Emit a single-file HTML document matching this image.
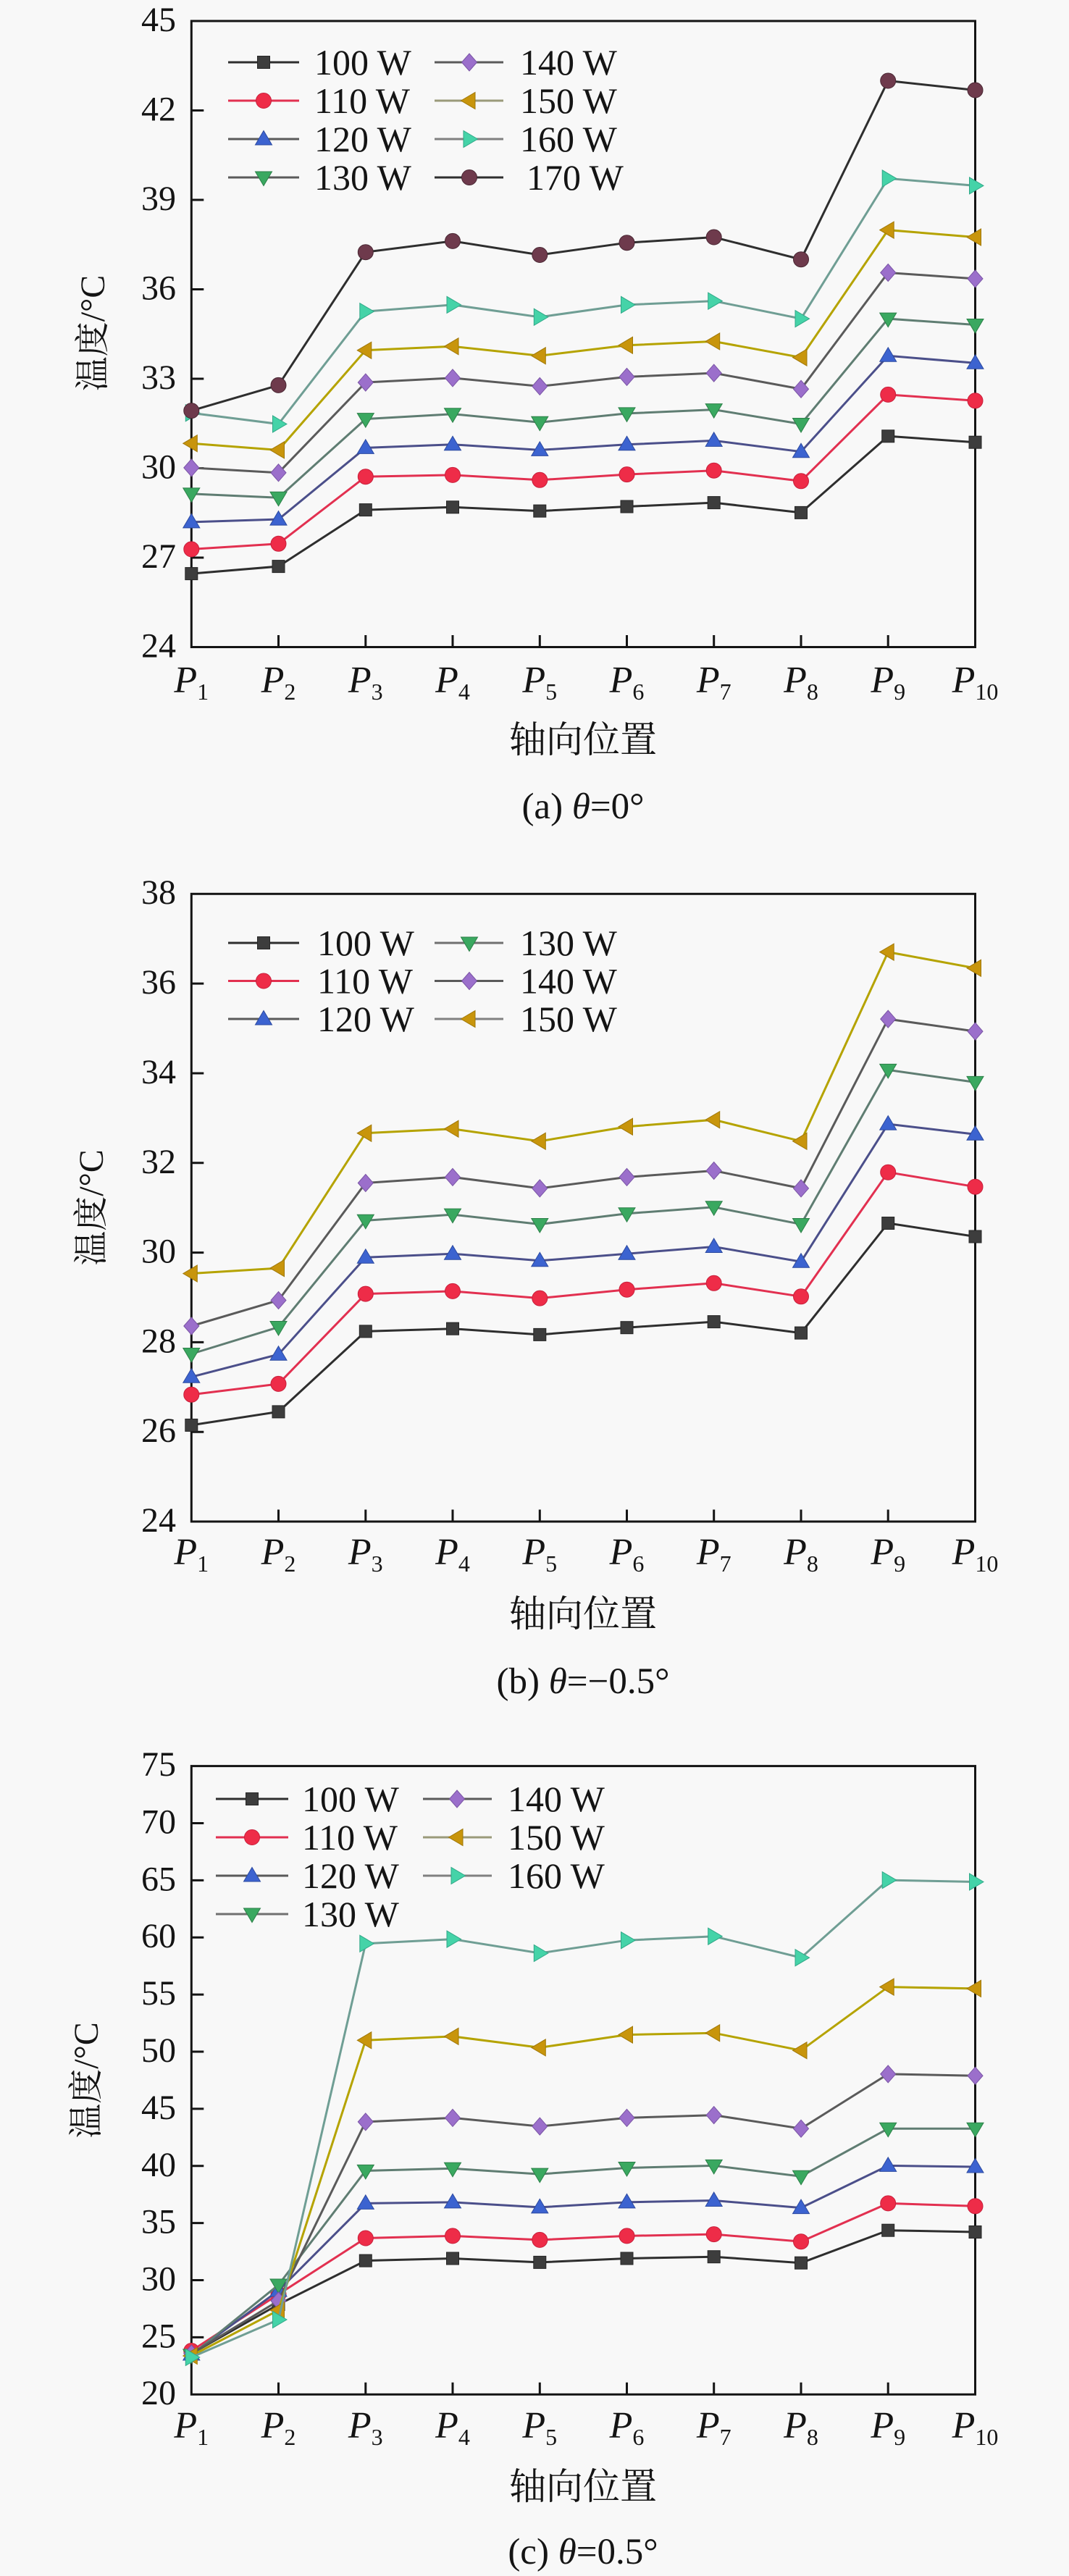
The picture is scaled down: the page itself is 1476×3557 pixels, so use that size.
<!DOCTYPE html>
<html><head><meta charset="utf-8"><style>
html,body{margin:0;padding:0;background:#f8f8f8;}
svg{display:block;}
text{font-family:"Liberation Serif","Noto Serif CJK SC",serif;fill:#141414;}
.cjk{font-family:"Noto Serif CJK SC","Liberation Serif",serif;}
</style></head><body>
<svg xmlns="http://www.w3.org/2000/svg" width="1476" height="3557" viewBox="0 0 1476 3557">
<rect width="1476" height="3557" fill="#f8f8f8"/>
<defs>
<g id="m100"><rect x="-8.5" y="-8.5" width="17" height="17" fill="#3d3d3d" stroke="#262626" stroke-width="1"/></g>
<g id="m110"><circle r="10.5" fill="#ee2c48" stroke="#c8203c" stroke-width="1"/></g>
<g id="m120"><polygon points="0,-11.5 11.5,8 -11.5,8" fill="#3c63d0" stroke="#2c4aa0" stroke-width="1"/></g>
<g id="m130"><polygon points="0,11.5 11.5,-8 -11.5,-8" fill="#3aa860" stroke="#2c8048" stroke-width="1"/></g>
<g id="m140"><polygon points="0,-12 10.5,0 0,12 -10.5,0" fill="#9b6fcb" stroke="#7a55a5" stroke-width="1"/></g>
<g id="m150"><polygon points="-11.5,0 8,-11.5 8,11.5" fill="#c8950c" stroke="#a07808" stroke-width="1"/></g>
<g id="m160"><polygon points="11.5,0 -8,-11.5 -8,11.5" fill="#45d3a8" stroke="#30a888" stroke-width="1"/></g>
<g id="m170"><circle r="10.5" fill="#6e3a4c" stroke="#4a2834" stroke-width="1"/></g>
</defs>

<!-- ================= PANEL (a) ================= -->
<g stroke="#141414" stroke-width="3" fill="none">
<rect x="264.3" y="29" width="1082.2" height="864.5"/>
<path d="M264.3,152.5h17M264.3,276h17M264.3,399.5h17M264.3,523h17M264.3,646.5h17M264.3,770h17"/>
<path d="M384.5,893.5v-16.5M504.8,893.5v-16.5M625,893.5v-16.5M745.3,893.5v-16.5M865.5,893.5v-16.5M985.7,893.5v-16.5M1106,893.5v-16.5M1226.2,893.5v-16.5"/>
</g>
<g font-size="48" text-anchor="end">
<text x="243" y="43">45</text><text x="243" y="166.5">42</text><text x="243" y="290">39</text><text x="243" y="413.5">36</text>
<text x="243" y="537">33</text><text x="243" y="660.5">30</text><text x="243" y="784">27</text><text x="243" y="907.5">24</text>
</g>
<g font-size="52" font-style="italic" text-anchor="middle">
<text x="264.3" y="956">P<tspan font-size="32" font-style="normal" dy="10">1</tspan></text>
<text x="384.5" y="956">P<tspan font-size="32" font-style="normal" dy="10">2</tspan></text>
<text x="504.8" y="956">P<tspan font-size="32" font-style="normal" dy="10">3</tspan></text>
<text x="625" y="956">P<tspan font-size="32" font-style="normal" dy="10">4</tspan></text>
<text x="745.3" y="956">P<tspan font-size="32" font-style="normal" dy="10">5</tspan></text>
<text x="865.5" y="956">P<tspan font-size="32" font-style="normal" dy="10">6</tspan></text>
<text x="985.7" y="956">P<tspan font-size="32" font-style="normal" dy="10">7</tspan></text>
<text x="1106" y="956">P<tspan font-size="32" font-style="normal" dy="10">8</tspan></text>
<text x="1226.2" y="956">P<tspan font-size="32" font-style="normal" dy="10">9</tspan></text>
<text x="1346.5" y="956">P<tspan font-size="32" font-style="normal" dy="10">10</tspan></text>
</g>
<text class="cjk" x="805" y="1039" font-size="51" text-anchor="middle">轴向位置</text>
<text x="805" y="1130" font-size="51" text-anchor="middle">(a) <tspan font-style="italic">θ</tspan>=0°</text>
<text transform="translate(144,460) rotate(-90)" font-size="48" text-anchor="middle"><tspan class="cjk">温度</tspan>/°C</text>

<!-- series a -->
<g fill="none" stroke-width="3" stroke-linejoin="round">
<polyline stroke="#2e2e2e" points="264.3,792.1 384.5,782.1 504.8,704.1 625,700.3 745.3,705.6 865.5,699.5 985.7,694.1 1106,707.9 1226.2,602.3 1346.5,610.7"/>
</g>
<g><use href="#m100" x="264.3" y="792.1"/><use href="#m100" x="384.5" y="782.1"/><use href="#m100" x="504.8" y="704.1"/><use href="#m100" x="625" y="700.3"/><use href="#m100" x="745.3" y="705.6"/><use href="#m100" x="865.5" y="699.5"/><use href="#m100" x="985.7" y="694.1"/><use href="#m100" x="1106" y="707.9"/><use href="#m100" x="1226.2" y="602.3"/><use href="#m100" x="1346.5" y="610.7"/></g>
<polyline fill="none" stroke-width="3" stroke="#e23050" points="264.3,758.4 384.5,750.8 504.8,658.2 625,655.9 745.3,662.8 865.5,655.1 985.7,649.7 1106,664.3 1226.2,544.9 1346.5,553.3"/>
<g><use href="#m110" x="264.3" y="758.4"/><use href="#m110" x="384.5" y="750.8"/><use href="#m110" x="504.8" y="658.2"/><use href="#m110" x="625" y="655.9"/><use href="#m110" x="745.3" y="662.8"/><use href="#m110" x="865.5" y="655.1"/><use href="#m110" x="985.7" y="649.7"/><use href="#m110" x="1106" y="664.3"/><use href="#m110" x="1226.2" y="544.9"/><use href="#m110" x="1346.5" y="553.3"/></g>
<polyline fill="none" stroke-width="3" stroke="#4b4f8a" points="264.3,720.9 384.5,717.1 504.8,618.4 625,613.8 745.3,621.4 865.5,613.8 985.7,608.4 1106,623.7 1226.2,491.3 1346.5,501.3"/>
<g><use href="#m120" x="264.3" y="720.9"/><use href="#m120" x="384.5" y="717.1"/><use href="#m120" x="504.8" y="618.4"/><use href="#m120" x="625" y="613.8"/><use href="#m120" x="745.3" y="621.4"/><use href="#m120" x="865.5" y="613.8"/><use href="#m120" x="985.7" y="608.4"/><use href="#m120" x="1106" y="623.7"/><use href="#m120" x="1226.2" y="491.3"/><use href="#m120" x="1346.5" y="501.3"/></g>
<polyline fill="none" stroke-width="3" stroke="#5f7d72" points="264.3,681.9 384.5,687.2 504.8,578.6 625,571.7 745.3,583.2 865.5,570.9 985.7,565.6 1106,585.5 1226.2,440.1 1346.5,448.5"/>
<g><use href="#m130" x="264.3" y="681.9"/><use href="#m130" x="384.5" y="687.2"/><use href="#m130" x="504.8" y="578.6"/><use href="#m130" x="625" y="571.7"/><use href="#m130" x="745.3" y="583.2"/><use href="#m130" x="865.5" y="570.9"/><use href="#m130" x="985.7" y="565.6"/><use href="#m130" x="1106" y="585.5"/><use href="#m130" x="1226.2" y="440.1"/><use href="#m130" x="1346.5" y="448.5"/></g>
<polyline fill="none" stroke-width="3" stroke="#5a5a5a" points="264.3,645.9 384.5,652.8 504.8,528.1 625,521.9 745.3,533.4 865.5,520.4 985.7,515.1 1106,537.2 1226.2,376.5 1346.5,384.9"/>
<g><use href="#m140" x="264.3" y="645.9"/><use href="#m140" x="384.5" y="652.8"/><use href="#m140" x="504.8" y="528.1"/><use href="#m140" x="625" y="521.9"/><use href="#m140" x="745.3" y="533.4"/><use href="#m140" x="865.5" y="520.4"/><use href="#m140" x="985.7" y="515.1"/><use href="#m140" x="1106" y="537.2"/><use href="#m140" x="1226.2" y="376.5"/><use href="#m140" x="1346.5" y="384.9"/></g>
<polyline fill="none" stroke-width="3" stroke="#b5a300" points="264.3,612.2 384.5,621.4 504.8,483.7 625,478.3 745.3,491.3 865.5,476.8 985.7,471.4 1106,493.6 1226.2,317.6 1346.5,327.5"/>
<g><use href="#m150" x="264.3" y="612.2"/><use href="#m150" x="384.5" y="621.4"/><use href="#m150" x="504.8" y="483.7"/><use href="#m150" x="625" y="478.3"/><use href="#m150" x="745.3" y="491.3"/><use href="#m150" x="865.5" y="476.8"/><use href="#m150" x="985.7" y="471.4"/><use href="#m150" x="1106" y="493.6"/><use href="#m150" x="1226.2" y="317.6"/><use href="#m150" x="1346.5" y="327.5"/></g>
<polyline fill="none" stroke-width="3" stroke="#6f9e94" points="264.3,570.2 384.5,585.5 504.8,430.1 625,420.9 745.3,437.8 865.5,420.9 985.7,415.6 1106,440.1 1226.2,246.4 1346.5,256.4"/>
<g><use href="#m160" x="264.3" y="570.2"/><use href="#m160" x="384.5" y="585.5"/><use href="#m160" x="504.8" y="430.1"/><use href="#m160" x="625" y="420.9"/><use href="#m160" x="745.3" y="437.8"/><use href="#m160" x="865.5" y="420.9"/><use href="#m160" x="985.7" y="415.6"/><use href="#m160" x="1106" y="440.1"/><use href="#m160" x="1226.2" y="246.4"/><use href="#m160" x="1346.5" y="256.4"/></g>
<polyline fill="none" stroke-width="3" stroke="#2e2e2e" points="264.3,567.1 384.5,531.9 504.8,348.2 625,332.9 745.3,352 865.5,335.2 985.7,327.5 1106,358.2 1226.2,111.5 1346.5,124.5"/>
<g><use href="#m170" x="264.3" y="567.1"/><use href="#m170" x="384.5" y="531.9"/><use href="#m170" x="504.8" y="348.2"/><use href="#m170" x="625" y="332.9"/><use href="#m170" x="745.3" y="352"/><use href="#m170" x="865.5" y="335.2"/><use href="#m170" x="985.7" y="327.5"/><use href="#m170" x="1106" y="358.2"/><use href="#m170" x="1226.2" y="111.5"/><use href="#m170" x="1346.5" y="124.5"/></g>

<!-- legend a -->
<g stroke-width="3">
<line x1="315" y1="86" x2="413" y2="86" stroke="#2e2e2e"/><line x1="315" y1="139" x2="413" y2="139" stroke="#e23050"/>
<line x1="315" y1="192" x2="413" y2="192" stroke="#5a5a5a"/><line x1="315" y1="245" x2="413" y2="245" stroke="#5a5a5a"/>
<line x1="600" y1="86" x2="695" y2="86" stroke="#5a5a5a"/><line x1="600" y1="139" x2="695" y2="139" stroke="#9a9a7a"/>
<line x1="600" y1="192" x2="695" y2="192" stroke="#808080"/><line x1="600" y1="245" x2="695" y2="245" stroke="#2e2e2e"/>
</g>
<use href="#m100" x="364" y="86"/><use href="#m110" x="364" y="139"/><use href="#m120" x="364" y="192"/><use href="#m130" x="364" y="245"/>
<use href="#m140" x="648" y="86"/><use href="#m150" x="648" y="139"/><use href="#m160" x="648" y="192"/><use href="#m170" x="648" y="245"/>
<g font-size="50">
<text x="434" y="103">100 W</text><text x="434" y="156">110 W</text><text x="434" y="209">120 W</text><text x="434" y="262">130 W</text>
<text x="718" y="103">140 W</text><text x="718" y="156">150 W</text><text x="718" y="209">160 W</text><text x="727" y="262">170 W</text>
</g>

<!-- ================= PANEL (b) ================= -->
<g stroke="#141414" stroke-width="3" fill="none">
<rect x="264.3" y="1234.3" width="1082.2" height="866.7"/>
<path d="M264.3,1358.1h17M264.3,1482h17M264.3,1605.8h17M264.3,1729.6h17M264.3,1853.4h17M264.3,1977.2h17"/>
<path d="M384.5,2101v-16.5M504.8,2101v-16.5M625,2101v-16.5M745.3,2101v-16.5M865.5,2101v-16.5M985.7,2101v-16.5M1106,2101v-16.5M1226.2,2101v-16.5"/>
</g>
<g font-size="48" text-anchor="end">
<text x="243" y="1248">38</text><text x="243" y="1372">36</text><text x="243" y="1496">34</text><text x="243" y="1620">32</text>
<text x="243" y="1743.5">30</text><text x="243" y="1867.5">28</text><text x="243" y="1991">26</text><text x="243" y="2115">24</text>
</g>
<g font-size="52" font-style="italic" text-anchor="middle">
<text x="264.3" y="2160">P<tspan font-size="32" font-style="normal" dy="10">1</tspan></text>
<text x="384.5" y="2160">P<tspan font-size="32" font-style="normal" dy="10">2</tspan></text>
<text x="504.8" y="2160">P<tspan font-size="32" font-style="normal" dy="10">3</tspan></text>
<text x="625" y="2160">P<tspan font-size="32" font-style="normal" dy="10">4</tspan></text>
<text x="745.3" y="2160">P<tspan font-size="32" font-style="normal" dy="10">5</tspan></text>
<text x="865.5" y="2160">P<tspan font-size="32" font-style="normal" dy="10">6</tspan></text>
<text x="985.7" y="2160">P<tspan font-size="32" font-style="normal" dy="10">7</tspan></text>
<text x="1106" y="2160">P<tspan font-size="32" font-style="normal" dy="10">8</tspan></text>
<text x="1226.2" y="2160">P<tspan font-size="32" font-style="normal" dy="10">9</tspan></text>
<text x="1346.5" y="2160">P<tspan font-size="32" font-style="normal" dy="10">10</tspan></text>
</g>
<text class="cjk" x="805" y="2246" font-size="51" text-anchor="middle">轴向位置</text>
<text x="805" y="2338" font-size="51" text-anchor="middle">(b) <tspan font-style="italic">θ</tspan>=−0.5°</text>
<text transform="translate(142,1667.5) rotate(-90)" font-size="48" text-anchor="middle"><tspan class="cjk">温度</tspan>/°C</text>

<polyline fill="none" stroke-width="3" stroke="#2e2e2e" points="264.3,1967.9 384.5,1949.4 504.8,1838.4 625,1834.7 745.3,1842.9 865.5,1833.2 985.7,1825.1 1106,1840.6 1226.2,1689 1346.5,1707.5"/>
<g><use href="#m100" x="264.3" y="1967.9"/><use href="#m100" x="384.5" y="1949.4"/><use href="#m100" x="504.8" y="1838.4"/><use href="#m100" x="625" y="1834.7"/><use href="#m100" x="745.3" y="1842.9"/><use href="#m100" x="865.5" y="1833.2"/><use href="#m100" x="985.7" y="1825.1"/><use href="#m100" x="1106" y="1840.6"/><use href="#m100" x="1226.2" y="1689"/><use href="#m100" x="1346.5" y="1707.5"/></g>
<polyline fill="none" stroke-width="3" stroke="#e23050" points="264.3,1925.7 384.5,1910.9 504.8,1786.6 625,1782.9 745.3,1792.6 865.5,1780.7 985.7,1771.8 1106,1790.3 1226.2,1618.7 1346.5,1638.7"/>
<g><use href="#m110" x="264.3" y="1925.7"/><use href="#m110" x="384.5" y="1910.9"/><use href="#m110" x="504.8" y="1786.6"/><use href="#m110" x="625" y="1782.9"/><use href="#m110" x="745.3" y="1792.6"/><use href="#m110" x="865.5" y="1780.7"/><use href="#m110" x="985.7" y="1771.8"/><use href="#m110" x="1106" y="1790.3"/><use href="#m110" x="1226.2" y="1618.7"/><use href="#m110" x="1346.5" y="1638.7"/></g>
<polyline fill="none" stroke-width="3" stroke="#4b4f8a" points="264.3,1901.3 384.5,1870.2 504.8,1736.3 625,1731.2 745.3,1740.8 865.5,1731.2 985.7,1721.5 1106,1742.2 1226.2,1552.1 1346.5,1566.2"/>
<g><use href="#m120" x="264.3" y="1901.3"/><use href="#m120" x="384.5" y="1870.2"/><use href="#m120" x="504.8" y="1736.3"/><use href="#m120" x="625" y="1731.2"/><use href="#m120" x="745.3" y="1740.8"/><use href="#m120" x="865.5" y="1731.2"/><use href="#m120" x="985.7" y="1721.5"/><use href="#m120" x="1106" y="1742.2"/><use href="#m120" x="1226.2" y="1552.1"/><use href="#m120" x="1346.5" y="1566.2"/></g>
<polyline fill="none" stroke-width="3" stroke="#5f7d72" points="264.3,1869.5 384.5,1832.5 504.8,1685.3 625,1677.1 745.3,1690.5 865.5,1675.7 985.7,1666.8 1106,1690.5 1226.2,1477.4 1346.5,1494.4"/>
<g><use href="#m130" x="264.3" y="1869.5"/><use href="#m130" x="384.5" y="1832.5"/><use href="#m130" x="504.8" y="1685.3"/><use href="#m130" x="625" y="1677.1"/><use href="#m130" x="745.3" y="1690.5"/><use href="#m130" x="865.5" y="1675.7"/><use href="#m130" x="985.7" y="1666.8"/><use href="#m130" x="1106" y="1690.5"/><use href="#m130" x="1226.2" y="1477.4"/><use href="#m130" x="1346.5" y="1494.4"/></g>
<polyline fill="none" stroke-width="3" stroke="#5a5a5a" points="264.3,1831 384.5,1795.5 504.8,1633.5 625,1625.4 745.3,1640.9 865.5,1625.4 985.7,1616.5 1106,1640.9 1226.2,1407.1 1346.5,1424.1"/>
<g><use href="#m140" x="264.3" y="1831"/><use href="#m140" x="384.5" y="1795.5"/><use href="#m140" x="504.8" y="1633.5"/><use href="#m140" x="625" y="1625.4"/><use href="#m140" x="745.3" y="1640.9"/><use href="#m140" x="865.5" y="1625.4"/><use href="#m140" x="985.7" y="1616.5"/><use href="#m140" x="1106" y="1640.9"/><use href="#m140" x="1226.2" y="1407.1"/><use href="#m140" x="1346.5" y="1424.1"/></g>
<polyline fill="none" stroke-width="3" stroke="#b5a300" points="264.3,1758.5 384.5,1751.1 504.8,1564.7 625,1558.8 745.3,1575.8 865.5,1555.8 985.7,1546.2 1106,1575.8 1226.2,1314.6 1346.5,1336.8"/>
<g><use href="#m150" x="264.3" y="1758.5"/><use href="#m150" x="384.5" y="1751.1"/><use href="#m150" x="504.8" y="1564.7"/><use href="#m150" x="625" y="1558.8"/><use href="#m150" x="745.3" y="1575.8"/><use href="#m150" x="865.5" y="1555.8"/><use href="#m150" x="985.7" y="1546.2"/><use href="#m150" x="1106" y="1575.8"/><use href="#m150" x="1226.2" y="1314.6"/><use href="#m150" x="1346.5" y="1336.8"/></g>

<!-- legend b -->
<g stroke-width="3">
<line x1="315" y1="1302" x2="413" y2="1302" stroke="#2e2e2e"/><line x1="315" y1="1354.5" x2="413" y2="1354.5" stroke="#e23050"/>
<line x1="315" y1="1407" x2="413" y2="1407" stroke="#5a5a5a"/>
<line x1="600" y1="1302" x2="695" y2="1302" stroke="#707070"/><line x1="600" y1="1354.5" x2="695" y2="1354.5" stroke="#5a5a5a"/>
<line x1="600" y1="1407" x2="695" y2="1407" stroke="#808080"/>
</g>
<use href="#m100" x="364" y="1302"/><use href="#m110" x="364" y="1354.5"/><use href="#m120" x="364" y="1407"/>
<use href="#m130" x="648" y="1302"/><use href="#m140" x="648" y="1354.5"/><use href="#m150" x="648" y="1407"/>
<g font-size="50">
<text x="438" y="1319">100 W</text><text x="438" y="1371.5">110 W</text><text x="438" y="1424">120 W</text>
<text x="718" y="1319">130 W</text><text x="718" y="1371.5">140 W</text><text x="718" y="1424">150 W</text>
</g>

<!-- ================= PANEL (c) ================= -->
<g stroke="#141414" stroke-width="3" fill="none">
<rect x="264.3" y="2438.6" width="1082.2" height="867.7"/>
<path d="M264.3,2517.5h17M264.3,2596.4h17M264.3,2675.2h17M264.3,2754.1h17M264.3,2833h17M264.3,2911.9h17M264.3,2990.8h17M264.3,3069.6h17M264.3,3148.5h17M264.3,3227.4h17"/>
<path d="M384.5,3306.3v-16.5M504.8,3306.3v-16.5M625,3306.3v-16.5M745.3,3306.3v-16.5M865.5,3306.3v-16.5M985.7,3306.3v-16.5M1106,3306.3v-16.5M1226.2,3306.3v-16.5"/>
</g>
<g font-size="48" text-anchor="end">
<text x="243" y="2452">75</text><text x="243" y="2531.5">70</text><text x="243" y="2610.5">65</text><text x="243" y="2689">60</text>
<text x="243" y="2768">55</text><text x="243" y="2847">50</text><text x="243" y="2926">45</text><text x="243" y="3005">40</text>
<text x="243" y="3083.5">35</text><text x="243" y="3162.5">30</text><text x="243" y="3241.5">25</text><text x="243" y="3320">20</text>
</g>
<g font-size="52" font-style="italic" text-anchor="middle">
<text x="264.3" y="3366">P<tspan font-size="32" font-style="normal" dy="10">1</tspan></text>
<text x="384.5" y="3366">P<tspan font-size="32" font-style="normal" dy="10">2</tspan></text>
<text x="504.8" y="3366">P<tspan font-size="32" font-style="normal" dy="10">3</tspan></text>
<text x="625" y="3366">P<tspan font-size="32" font-style="normal" dy="10">4</tspan></text>
<text x="745.3" y="3366">P<tspan font-size="32" font-style="normal" dy="10">5</tspan></text>
<text x="865.5" y="3366">P<tspan font-size="32" font-style="normal" dy="10">6</tspan></text>
<text x="985.7" y="3366">P<tspan font-size="32" font-style="normal" dy="10">7</tspan></text>
<text x="1106" y="3366">P<tspan font-size="32" font-style="normal" dy="10">8</tspan></text>
<text x="1226.2" y="3366">P<tspan font-size="32" font-style="normal" dy="10">9</tspan></text>
<text x="1346.5" y="3366">P<tspan font-size="32" font-style="normal" dy="10">10</tspan></text>
</g>
<text class="cjk" x="805" y="3451" font-size="51" text-anchor="middle">轴向位置</text>
<text x="805" y="3540" font-size="51" text-anchor="middle">(c) <tspan font-style="italic">θ</tspan>=0.5°</text>
<text transform="translate(135,2872.5) rotate(-90)" font-size="48" text-anchor="middle"><tspan class="cjk">温度</tspan>/°C</text>

<polyline fill="none" stroke-width="3" stroke="#2e2e2e" points="264.3,3250 384.5,3182 504.8,3121.6 625,3118.5 745.3,3123.9 865.5,3118.5 985.7,3116.2 1106,3124.7 1226.2,3079.7 1346.5,3082"/>
<g><use href="#m100" x="264.3" y="3250"/><use href="#m100" x="384.5" y="3182"/><use href="#m100" x="504.8" y="3121.6"/><use href="#m100" x="625" y="3118.5"/><use href="#m100" x="745.3" y="3123.9"/><use href="#m100" x="865.5" y="3118.5"/><use href="#m100" x="985.7" y="3116.2"/><use href="#m100" x="1106" y="3124.7"/><use href="#m100" x="1226.2" y="3079.7"/><use href="#m100" x="1346.5" y="3082"/></g>
<polyline fill="none" stroke-width="3" stroke="#e23050" points="264.3,3246 384.5,3168 504.8,3090.5 625,3087.4 745.3,3092.9 865.5,3087.4 985.7,3085.1 1106,3095.2 1226.2,3042.4 1346.5,3046.3"/>
<g><use href="#m110" x="264.3" y="3246"/><use href="#m110" x="384.5" y="3168"/><use href="#m110" x="504.8" y="3090.5"/><use href="#m110" x="625" y="3087.4"/><use href="#m110" x="745.3" y="3092.9"/><use href="#m110" x="865.5" y="3087.4"/><use href="#m110" x="985.7" y="3085.1"/><use href="#m110" x="1106" y="3095.2"/><use href="#m110" x="1226.2" y="3042.4"/><use href="#m110" x="1346.5" y="3046.3"/></g>
<polyline fill="none" stroke-width="3" stroke="#4b4f8a" points="264.3,3251 384.5,3163 504.8,3042.4 625,3040.9 745.3,3047.9 865.5,3040.9 985.7,3038.5 1106,3048.6 1226.2,2990.4 1346.5,2992"/>
<g><use href="#m120" x="264.3" y="3251"/><use href="#m120" x="384.5" y="3163"/><use href="#m120" x="504.8" y="3042.4"/><use href="#m120" x="625" y="3040.9"/><use href="#m120" x="745.3" y="3047.9"/><use href="#m120" x="865.5" y="3040.9"/><use href="#m120" x="985.7" y="3038.5"/><use href="#m120" x="1106" y="3048.6"/><use href="#m120" x="1226.2" y="2990.4"/><use href="#m120" x="1346.5" y="2992"/></g>
<polyline fill="none" stroke-width="3" stroke="#5f7d72" points="264.3,3252 384.5,3155 504.8,2997.4 625,2994.3 745.3,3002.1 865.5,2993.5 985.7,2990.4 1106,3005.2 1226.2,2939.2 1346.5,2939.2"/>
<g><use href="#m130" x="264.3" y="3252"/><use href="#m130" x="384.5" y="3155"/><use href="#m130" x="504.8" y="2997.4"/><use href="#m130" x="625" y="2994.3"/><use href="#m130" x="745.3" y="3002.1"/><use href="#m130" x="865.5" y="2993.5"/><use href="#m130" x="985.7" y="2990.4"/><use href="#m130" x="1106" y="3005.2"/><use href="#m130" x="1226.2" y="2939.2"/><use href="#m130" x="1346.5" y="2939.2"/></g>
<polyline fill="none" stroke-width="3" stroke="#5a5a5a" points="264.3,3250 384.5,3177 504.8,2929.9 625,2924.4 745.3,2936.1 865.5,2924.4 985.7,2920.6 1106,2939.2 1226.2,2863.9 1346.5,2866.2"/>
<g><use href="#m140" x="264.3" y="3250"/><use href="#m140" x="384.5" y="3177"/><use href="#m140" x="504.8" y="2929.9"/><use href="#m140" x="625" y="2924.4"/><use href="#m140" x="745.3" y="2936.1"/><use href="#m140" x="865.5" y="2924.4"/><use href="#m140" x="985.7" y="2920.6"/><use href="#m140" x="1106" y="2939.2"/><use href="#m140" x="1226.2" y="2863.9"/><use href="#m140" x="1346.5" y="2866.2"/></g>
<polyline fill="none" stroke-width="3" stroke="#b5a300" points="264.3,3253 384.5,3190 504.8,2817.3 625,2811.9 745.3,2827.4 865.5,2809.6 985.7,2807.2 1106,2831.3 1226.2,2743.6 1346.5,2745.9"/>
<g><use href="#m150" x="264.3" y="3253"/><use href="#m150" x="384.5" y="3190"/><use href="#m150" x="504.8" y="2817.3"/><use href="#m150" x="625" y="2811.9"/><use href="#m150" x="745.3" y="2827.4"/><use href="#m150" x="865.5" y="2809.6"/><use href="#m150" x="985.7" y="2807.2"/><use href="#m150" x="1106" y="2831.3"/><use href="#m150" x="1226.2" y="2743.6"/><use href="#m150" x="1346.5" y="2745.9"/></g>
<polyline fill="none" stroke-width="3" stroke="#6f9e94" points="264.3,3255 384.5,3203 504.8,2683.8 625,2677.6 745.3,2697 865.5,2679.2 985.7,2673.7 1106,2703.2 1226.2,2596.1 1346.5,2598.5"/>
<g><use href="#m160" x="264.3" y="3255"/><use href="#m160" x="384.5" y="3203"/><use href="#m160" x="504.8" y="2683.8"/><use href="#m160" x="625" y="2677.6"/><use href="#m160" x="745.3" y="2697"/><use href="#m160" x="865.5" y="2679.2"/><use href="#m160" x="985.7" y="2673.7"/><use href="#m160" x="1106" y="2703.2"/><use href="#m160" x="1226.2" y="2596.1"/><use href="#m160" x="1346.5" y="2598.5"/></g>

<!-- legend c -->
<g stroke-width="3">
<line x1="298" y1="2484" x2="398" y2="2484" stroke="#2e2e2e"/><line x1="298" y1="2537" x2="398" y2="2537" stroke="#e23050"/>
<line x1="298" y1="2590" x2="398" y2="2590" stroke="#5a5a5a"/><line x1="298" y1="2643" x2="398" y2="2643" stroke="#707070"/>
<line x1="584" y1="2484" x2="679" y2="2484" stroke="#5a5a5a"/><line x1="584" y1="2537" x2="679" y2="2537" stroke="#9a9a7a"/>
<line x1="584" y1="2590" x2="679" y2="2590" stroke="#808080"/>
</g>
<use href="#m100" x="348" y="2484"/><use href="#m110" x="348" y="2537"/><use href="#m120" x="348" y="2590"/><use href="#m130" x="348" y="2643"/>
<use href="#m140" x="631" y="2484"/><use href="#m150" x="631" y="2537"/><use href="#m160" x="631" y="2590"/>
<g font-size="50">
<text x="417" y="2501">100 W</text><text x="417" y="2554">110 W</text><text x="417" y="2607">120 W</text><text x="417" y="2660">130 W</text>
<text x="701" y="2501">140 W</text><text x="701" y="2554">150 W</text><text x="701" y="2607">160 W</text>
</g>
</svg>
</body></html>
